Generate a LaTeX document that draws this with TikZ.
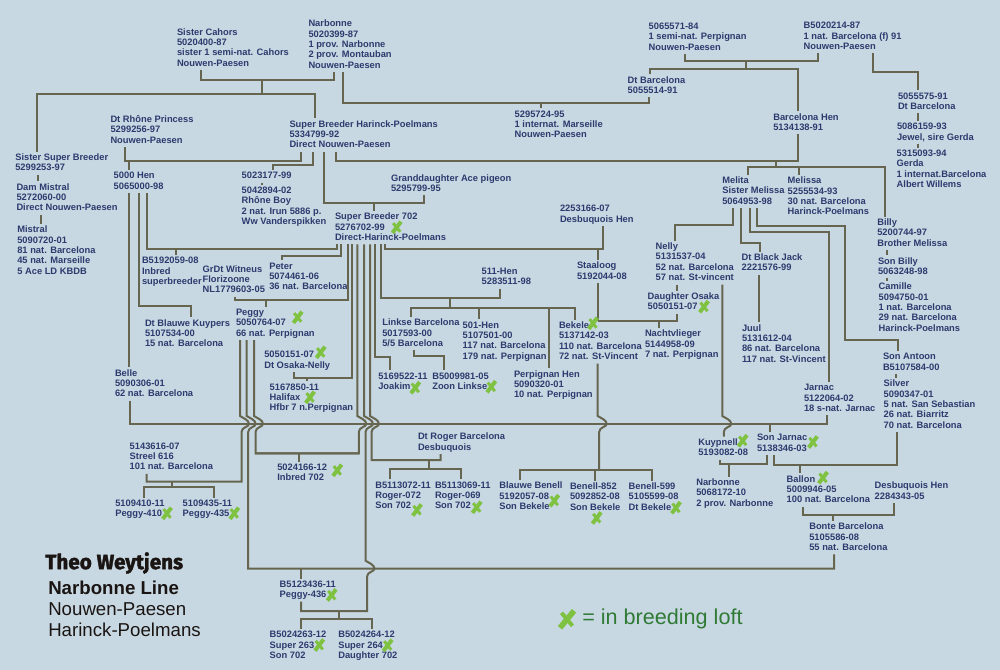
\documentclass[tikz,border=0pt]{standalone}
\usepackage{fontspec}
\setmainfont{Liberation Sans}
\newfontfamily\ttlfont[UprightFont=* Bold,FakeBold=1.8]{Fira Sans}
\definecolor{bgc}{HTML}{C8D8E2}
\definecolor{txt}{HTML}{2D3A6E}
\definecolor{lnc}{HTML}{66654F}
\definecolor{xcol}{HTML}{7FC241}
\definecolor{lgd}{HTML}{2F7A35}
\definecolor{ttl}{HTML}{1A1513}
\tikzset{
  lab/.style={font=\bfseries\fontsize{7pt}{7.8pt}\selectfont,text=txt,align=left,anchor=north west,inner sep=0pt,outer sep=1.5pt,xshift=-1.5pt,yshift=4pt},
  conn/.style={draw=lnc,line width=1.5pt,line join=miter},
  xmark/.pic={\draw[xcol,line width=2.2pt] (-3.5,-4.2)--(3.5,4.5);\draw[xcol,line width=3pt] (-4.3,5.6)--(4.3,-5.6);},
  bigx/.pic={\draw[xcol,line width=3pt] (-5.5,-6.5)--(5.5,6.5);\draw[xcol,line width=4.2pt] (-7,8.5)--(7,-8.5);},
  bigt/.style={anchor=west,inner sep=0pt,text=ttl}
}
\newcommand\lab[4]{\node[lab] (#1) at (#2,#3) {\rule{0pt}{5pt}#4\rule[-1.45pt]{0pt}{1pt}};}
\newcommand\fromS[2]{(#1,0 |- #2.south)}
\newcommand\toN[2]{(#1,0 |- #2.north)}
\newcommand\on[2]{(#1,0 |- #2)}
\newcommand\hop[2]{-- (#1,#2-8) .. controls (#1+3,#2-6) and (#1+9,#2-4) .. (#1+9,#2) .. controls (#1+9,#2+3) and (#1+1.5,#2+3) .. (#1+1.5,#2+8)}
\newcommand\xm[2]{\pic at (#1,#2) {xmark};}
\begin{document}
\begin{tikzpicture}[x=0.75pt,y=-0.75pt]
\useasboundingbox (0,0) rectangle (1000,670);
\fill[bgc] (0,0) rectangle (1000,670);
% bars
\foreach \n/\y in {b1/80,b2/94,b3/102.7,b4/60.7,b5/69.3,b6/160.7,b7/167.3,b8/161.3,b9/203.3,b10/249.3,b11/298.3,b12/308,b13/300.3,b14/378.3,b15/320.8,mainbar/424,b16/453.3,b17/481.7,b18/486.7,b19/460,b20/469,b21/470,b22/568.7,b23/611,b24/619,b25/463.7,b26/464.7,b27/514.7}{\coordinate (\n) at (0,\y);}
% labels
\lab{sc}{177}{31.7}{Sister Cahors\\5020400-87\\sister 1 semi-nat. Cahors\\Nouwen-Paesen}
\lab{nb}{308.5}{23.3}{Narbonne\\5020399-87\\1 prov. Narbonne\\2 prov. Montauban\\Nouwen-Paesen}
\lab{mA}{648.7}{26}{5065571-84\\1 semi-nat. Perpignan\\Nouwen-Paesen}
\lab{bA}{803.7}{25.3}{B5020214-87\\1 nat. Barcelona (f) 91\\Nouwen-Paesen}
\lab{drh}{110.5}{118.7}{Dt Rhône Princess\\5299256-97\\Nouwen-Paesen}
\lab{sbh}{289.5}{123.7}{Super Breeder Harinck-Poelmans\\5334799-92\\Direct Nouwen-Paesen}
\lab{dtb}{627.7}{79.7}{Dt Barcelona\\5055514-91}
\lab{mB}{514.7}{113.7}{5295724-95\\1 internat. Marseille\\Nouwen-Paesen}
\lab{bch}{773.3}{116.7}{Barcelona Hen\\5134138-91}
\lab{dC}{898}{95.7}{5055575-91\\Dt Barcelona}
\lab{jew}{897}{126.3}{5086159-93\\Jewel, sire Gerda}
\lab{gerda}{896.7}{153}{5315093-94\\Gerda\\1 internat.Barcelona\\Albert Willems}
\lab{ssb}{15.3}{157}{Sister Super Breeder\\5299253-97}
\lab{dam}{16.5}{186.7}{Dam Mistral\\5272060-00\\Direct Nouwen-Paesen}
\lab{mist}{17.3}{229.3}{Mistral\\5090720-01\\81 nat. Barcelona\\45 nat. Marseille\\5 Ace LD KBDB}
\lab{hk}{113.7}{175.3}{5000 Hen\\5065000-98}
\lab{mC}{241.7}{175.3}{5023177-99}
\lab{rb}{241.7}{190}{5042894-02\\Rhône Boy\\2 nat. Irun 5886 p.\\Ww Vanderspikken}
\lab{gda}{391}{177.7}{Granddaughter Ace pigeon\\5295799-95}
\lab{sbs}{335}{216.3}{Super Breeder 702\\5276702-99\\Direct-Harinck-Poelmans}
\lab{melita}{722.3}{180}{Melita\\Sister Melissa\\5064953-98}
\lab{melissa}{787.7}{180.3}{Melissa\\5255534-93\\30 nat. Barcelona\\Harinck-Poelmans}
\lab{dh}{560}{208.3}{2253166-07\\Desbuquois Hen}
\lab{billy}{877.3}{222}{Billy\\5200744-97\\Brother Melissa}
\lab{sonb}{878}{260.7}{Son Billy\\5063248-98}
\lab{cam}{878.7}{286.3}{Camille\\5094750-01\\1 nat. Barcelona\\29 nat. Barcelona\\Harinck-Poelmans}
\lab{nelly}{655.7}{246}{Nelly\\5131537-04\\52 nat. Barcelona\\57 nat. St-vincent}
\lab{dos}{647.7}{296}{Daughter Osaka\\5050151-07}
\lab{nacht}{645}{333.3}{Nachtvlieger\\5144958-09\\7 nat. Perpignan}
\lab{djack}{741.7}{257}{Dt Black Jack\\2221576-99}
\lab{juul}{742}{327.7}{Juul\\5131612-04\\86 nat. Barcelona\\117 nat. St-Vincent}
\lab{santoon}{883}{356.3}{Son Antoon\\B5107584-00}
\lab{silver}{883.7}{383.3}{Silver\\5090347-01\\5 nat. San Sebastian\\26 nat. Biarritz\\70 nat. Barcelona}
\lab{jarnac}{804}{387.3}{Jarnac\\5122064-02\\18 s-nat. Jarnac}
\lab{staal}{577}{265.3}{Staaloog\\5192044-08}
\lab{hD}{481.7}{271}{511-Hen\\5283511-98}
\lab{linkse}{382.3}{322.3}{Linkse Barcelona\\5017593-00\\5/5 Barcelona}
\lab{hE}{462.7}{324.7}{501-Hen\\5107501-00\\117 nat. Barcelona\\179 nat. Perpignan}
\lab{bekele}{559}{325}{Bekele\\5137142-03\\110 nat. Barcelona\\72 nat. St-Vincent}
\lab{perp}{514}{373.7}{Perpignan Hen\\5090320-01\\10 nat. Perpignan}
\lab{joakim}{378.3}{375.7}{5169522-11\\Joakim}
\lab{zoon}{432.3}{375.7}{B5009981-05\\Zoon Linkse}
\lab{inb}{142}{260.3}{B5192059-08\\Inbred\\superbreeder}
\lab{grdt}{202.7}{268.7}{GrDt Witneus\\Florizoone\\NL1779603-05}
\lab{peter}{269.3}{265.7}{Peter\\5074461-06\\36 nat. Barcelona}
\lab{dbk}{145}{322.7}{Dt Blauwe Kuypers\\5107534-00\\15 nat. Barcelona}
\lab{peggy}{236}{312}{Peggy\\5050764-07\\66 nat. Perpignan}
\lab{dosn}{264.3}{354.3}{5050151-07\\Dt Osaka-Nelly}
\lab{hal}{269.7}{386.7}{5167850-11\\Halifax\\Hfbr 7 n.Perpignan}
\lab{belle}{115}{372.7}{Belle\\5090306-01\\62 nat. Barcelona}
\lab{streel}{129.7}{445.7}{5143616-07\\Streel 616\\101 nat. Barcelona}
\lab{pF}{115.3}{503}{5109410-11\\Peggy-410}
\lab{pG}{182.7}{503}{5109435-11\\Peggy-435}
\lab{inbs}{277.3}{467}{5024166-12\\Inbred 702}
\lab{rH}{375.3}{484.7}{B5113072-11\\Roger-072\\Son 702}
\lab{rI}{435}{484.7}{B5113069-11\\Roger-069\\Son 702}
\lab{roger}{418}{436.3}{Dt Roger Barcelona\\Desbuquois}
\lab{pJ}{279.7}{584}{B5123436-11\\Peggy-436}
\lab{sK}{269.7}{634.3}{B5024263-12\\Super 263\\Son 702}
\lab{sL}{338.3}{634.3}{B5024264-12\\Super 264\\Daughter 702}
\lab{bb}{499.3}{485.3}{Blauwe Benell\\5192057-08\\Son Bekele}
\lab{bM}{570}{486}{Benell-852\\5092852-08\\Son Bekele}
\lab{bN}{628.7}{486}{Benell-599\\5105599-08\\Dt Bekele}
\lab{kuyp}{698.3}{442}{Kuypnell\\5193082-08}
\lab{sjar}{757}{437.3}{Son Jarnac\\5138346-03}
\lab{nbb}{696.3}{482}{Narbonne\\5068172-10\\2 prov. Narbonne}
\lab{ballon}{786.7}{478.7}{Ballon\\5009946-05\\100 nat. Barcelona}
\lab{dhb}{874.7}{485.3}{Desbuquois Hen\\2284343-05}
\lab{bonte}{809.3}{526.3}{Bonte Barcelona\\5105586-08\\55 nat. Barcelona}
% title and legend
\node[bigt,font=\ttlfont\fontsize{15.5pt}{16pt}\selectfont] (title) at (45,563) {Theo Weytjens};
\node[bigt,font=\bfseries\fontsize{14pt}{15pt}\selectfont] (lineA) at (48,588) {Narbonne Line};
\node[bigt,font=\fontsize{14pt}{15pt}\selectfont] (lineB) at (48,609) {Nouwen-Paesen};
\node[bigt,font=\fontsize{14pt}{15pt}\selectfont] (lineC) at (48,630) {Harinck-Poelmans};
\node[anchor=west,inner sep=0pt,text=lgd,font=\fontsize{16.2pt}{17pt}\selectfont] (legend) at (582,619) {= in breeding loft};
% connectors: top
\draw[conn] \fromS{201}{sc} |- \on{334.3}{b1} -- \fromS{334.3}{nb};
\draw[conn] \on{261.7}{b1} -- \on{261.7}{b2};
\draw[conn] \toN{37.3}{ssb} |- \on{314.7}{b2} -- \toN{314.7}{sbh};
\draw[conn] \fromS{343.3}{nb} |- \on{649.3}{b3} -- \fromS{649.3}{dtb};
\draw[conn] \on{541}{b3} -- \toN{541}{mB};
\draw[conn] \fromS{685}{mA} |- \on{817.7}{b4} -- \fromS{817.7}{bA};
\draw[conn] \on{745.7}{b4} -- \on{745.7}{b5};
\draw[conn] \toN{649.7}{dtb} |- \on{797.7}{b5} -- \toN{797.7}{bch};
\draw[conn] \fromS{797.7}{bch} |- \on{336}{b6} -- \fromS{336}{sbh};
\draw[conn] \fromS{872.7}{bA} |- (918.3,71.7) -- \toN{918.3}{dC};
\draw[conn] \fromS{918.3}{dC} -- \toN{918.3}{jew};
\draw[conn] \fromS{918}{jew} -- \toN{918}{gerda};
\draw[conn] \on{775.7}{b6} -- \on{775.7}{b7};
\draw[conn] \toN{748}{melita} |- \on{885}{b7} -- \toN{885}{billy};
\draw[conn] \on{798.7}{b7} -- \toN{798.7}{melissa};
\draw[conn] \fromS{733.3}{melita} |- (675,224.7) -- \toN{675}{nelly};
\draw[conn] \fromS{741.3}{melita} |- (760.3,242.7) -- \toN{760.3}{djack};
\draw[conn] \fromS{750}{melita} |- (828.5,231.7) -- \toN{828.5}{jarnac};
\draw[conn] \fromS{756.7}{melita} |- (845.3,225.7) |- (898.3,340) -- \toN{898.3}{santoon};
\draw[conn] \fromS{759.3}{djack} -- \toN{759.3}{juul};
\draw[conn] \fromS{886.7}{billy} -- \toN{886.7}{sonb};
\draw[conn] \fromS{886.7}{sonb} -- \toN{886.7}{cam};
\draw[conn] \fromS{896}{santoon} -- \toN{896}{silver};
\draw[conn] \fromS{677.3}{nelly} -- \toN{677.3}{dos};
\draw[conn] \fromS{677.3}{dos} |- \on{597.7}{b15};
\draw[conn] \fromS{597.7}{staal} -- \on{597.7}{b15};
\draw[conn] \on{658.7}{b15} -- \toN{658.7}{nacht};
\draw[conn] \fromS{301}{sbh} |- \on{125}{b8} -- \fromS{125}{drh};
\draw[conn] \on{129.3}{b8} -- \toN{129.3}{hk};
\draw[conn] \fromS{313.3}{sbh} |- (273.3,165) -- \toN{273.3}{mC};
\draw[conn] \fromS{262}{mC} -- \toN{262}{rb};
\draw[conn] \fromS{324.3}{sbh} |- \on{424}{b9} -- \fromS{424}{gda};
\draw[conn] \on{374.3}{b9} -- \toN{374.3}{sbs};
\draw[conn] \fromS{38}{ssb} -- \toN{38}{dam};
\draw[conn] \fromS{40.7}{dam} -- \toN{40.7}{mist};
% main bar
\draw[conn] \fromS{130}{belle} |- \on{827}{mainbar} -- \fromS{827}{jarnac};
\draw[conn] \on{770}{mainbar} -- \toN{770}{sjar};
% from 5000 Hen
\draw[conn] \fromS{129.3}{hk} -- \toN{129.3}{belle};
\draw[conn] \fromS{138.7}{hk} |- (191.3,306) -- \toN{191.3}{dbk};
\draw[conn] \fromS{147}{hk} |- \on{336.7}{b10} -- \fromS{336.7}{sbs};
\draw[conn] \on{176}{b10} -- \toN{176}{inb};
% from Super Breeder 702
\draw[conn] \fromS{341}{sbs} |- (281.7,256) -- \toN{281.7}{peter};
\draw[conn] \fromS{348}{sbs} |- \on{235}{b13} -- \fromS{235}{grdt};
\draw[conn] \on{265.7}{b13} -- \toN{265.7}{peggy};
\draw[conn] \fromS{352.3}{sbs} |- \on{294}{b14} -- \fromS{294}{dosn};
\draw[conn] \on{306.7}{b14} -- \toN{306.7}{hal};
\draw[conn] \fromS{357.3}{sbs} \hop{357.3}{424} |- \on{255}{b16};
\draw[conn] \fromS{364}{sbs} \hop{364}{424} \hop{365.5}{568.7} |- \on{301}{b23} -- \fromS{301}{pJ};
\draw[conn] \fromS{370}{sbs} \hop{370}{424} |- \on{440.7}{b19} -- \fromS{440.7}{roger};
\draw[conn] \fromS{375}{sbs} |- (390,357.3) -- \toN{390}{joakim};
\draw[conn] \fromS{381}{sbs} |- \on{500}{b11} -- \fromS{500}{hD};
\draw[conn] \on{450.3}{b11} -- \on{450.3}{b12};
\draw[conn] \toN{411.3}{linkse} |- \on{575}{b12} -- \toN{575}{bekele};
\draw[conn] \on{479}{b12} -- \toN{479}{hE};
\draw[conn] \on{549}{b12} -- \toN{549}{perp};
\draw[conn] \fromS{385}{sbs} |- \on{603}{b10} -- \fromS{603}{dh};
\draw[conn] \on{597.7}{b10} -- \toN{597.7}{staal};
\draw[conn] \fromS{414.3}{linkse} |- (444.3,355.7) -- \toN{444.3}{zoon};
% bottom
\draw[conn] \on{428.7}{b19} -- \on{428.7}{b20};
\draw[conn] \toN{390}{rH} |- \on{460.7}{b20} -- \toN{460.7}{rI};
\draw[conn] \fromS{597.7}{bekele} \hop{597.7}{424} -- \on{599.2}{b21};
\draw[conn] \toN{519.7}{bb} |- \on{652.3}{b21} -- \toN{652.3}{bN};
\draw[conn] \on{595}{b21} -- \toN{595}{bM};
\draw[conn] \fromS{722.3}{nelly} \hop{722.3}{424} -- \toN{723.8}{kuyp};
\draw[conn] \fromS{720}{kuyp} |- \on{766.7}{b25} -- \fromS{766.7}{sjar};
\draw[conn] \on{729}{b25} -- \toN{729}{nbb};
\draw[conn] \fromS{773.7}{sjar} |- \on{897.3}{b26} -- \fromS{897.3}{silver};
\draw[conn] \on{799.7}{b26} -- \toN{799.7}{ballon};
\draw[conn] \fromS{803}{ballon} |- \on{894}{b27} -- \fromS{894}{dhb};
\draw[conn] \on{833}{b27} -- \toN{833}{bonte};
\draw[conn] \fromS{240}{peggy} \hop{240}{424} |- \on{146.7}{b17} -- \fromS{146.7}{streel};
\draw[conn] \on{172.3}{b17} -- \on{172.3}{b18};
\draw[conn] \toN{144}{pF} |- \on{214.3}{b18} -- \toN{214.3}{pG};
\draw[conn] \fromS{246.7}{peggy} \hop{246.7}{424} |- \on{834}{b22} -- \fromS{834}{bonte};
\draw[conn] \fromS{254}{peggy} \hop{254}{424} |- \on{358.8}{b16};
\draw[conn] \on{299}{b16} -- \toN{299}{inbs};
\draw[conn] \on{301}{b22} -- \toN{301}{pJ};
\draw[conn] \on{338.7}{b23} -- \on{338.7}{b24};
\draw[conn] \toN{301.3}{sK} |- \on{372}{b24} -- \toN{372}{sL};
% X marks
\xm{396.7}{227.3}\xm{297.7}{317.3}\xm{320.7}{352.3}\xm{310}{397.3}\xm{415.3}{387.7}\xm{491.3}{386.7}
\xm{593}{323.3}\xm{704}{306.7}\xm{742.7}{440.7}\xm{813}{442}\xm{823}{477.7}\xm{554.3}{500.7}
\xm{596.7}{518}\xm{676}{507.7}\xm{337.3}{470.3}\xm{167}{513.3}\xm{234.3}{513.3}\xm{417}{510}
\xm{476.7}{507.3}\xm{331.7}{595}\xm{319.3}{645}\xm{387.7}{645.3}
\pic at (567,619.3) {bigx};
\end{tikzpicture}
\end{document}
